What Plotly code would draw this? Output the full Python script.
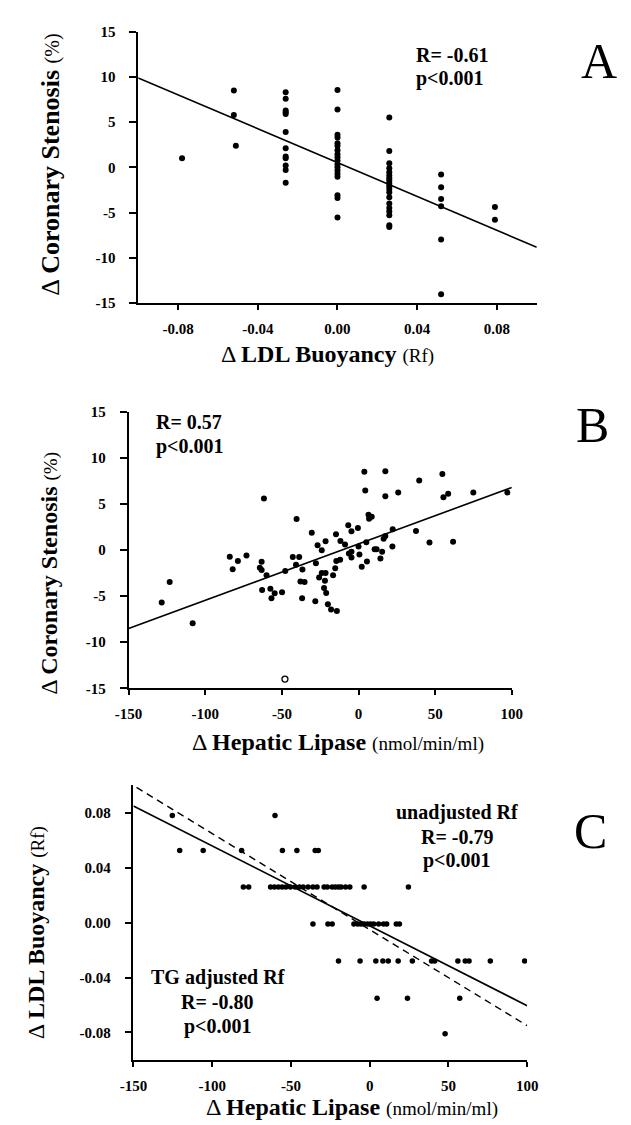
import plotly.graph_objects as go

W, H = 631, 1125

# ---------------- Panel A data ----------------
a_x = [-0.078,
       -0.052, -0.052, -0.051,
       -0.026, -0.026, -0.026, -0.026, -0.026, -0.026, -0.026, -0.026, -0.026, -0.026, -0.026, -0.026,
       0.0, 0.0, 0.0, 0.0, 0.0, 0.0, 0.0, 0.0, 0.0, 0.0, 0.0, 0.0, 0.0, 0.0, 0.0, 0.0, 0.0, 0.0,
       0.026, 0.026, 0.026, 0.026, 0.026, 0.026, 0.026, 0.026, 0.026, 0.026, 0.026, 0.026, 0.026, 0.026,
       0.026, 0.026, 0.026, 0.026, 0.026,
       0.052, 0.052, 0.052, 0.052, 0.052, 0.052,
       0.079, 0.079]
a_y = [1.0,
       8.5, 5.8, 2.4,
       8.3, 7.6, 6.3, 6.1, 5.9, 3.9, 2.1, 1.2, 1.0, 0.2, -0.3, -1.7,
       8.55, 6.4, 3.6, 3.3, 2.65, 2.4, 1.9, 1.45, 1.1, 0.75, 0.35, 0.0, -0.35, -0.7, -1.05, -3.1, -3.4, -5.55,
       5.5, 1.8, 0.45, -0.1, -0.55, -0.9, -1.2, -1.5, -1.8, -2.1, -2.4, -2.75, -3.3, -4.0,
       -4.5, -4.9, -5.3, -6.4, -6.6,
       -0.8, -2.2, -3.5, -4.3, -8.0, -14.05,
       -4.4, -5.8]
a_fit_x = [-0.1, 0.1]
a_fit_y = [9.9, -8.85]
a_xticks = [-0.08, -0.04, 0.0, 0.04, 0.08]
a_xticktext = ["-0.08", "-0.04", "0.00", "0.04", "0.08"]
a_yticks = [15, 10, 5, 0, -5, -10, -15]
a_yticktext = ["15", "10", "5", "0", "-5", "-10", "-15"]

# ---------------- Panel B data ----------------
b_x = [-128.4, -123.2, -108.2, -84.0, -82.1, -78.7, -73.1, -63.2, -61.7, -64.4,
       -63.2, -60.0, -62.9, -57.5, -56.8, -54.7, -49.9, -47.8, -42.9, -40.4,
       -38.7, -40.8, -36.6, -37.9, -35.2, -36.8, -30.5, -27.8, -28.2, -26.7,
       -24.0, -25.7, -24.0, -21.5, -21.9, -22.5, -21.1, -21.5, -20.0, -17.9,
       -14.1, -16.6, -15.2, -14.5, -12.0, -14.7, -11.8, -8.8, -6.7, -4.6,
       -6.3, -4.6, -4.6, -0.4, 0.0, 0.6, 2.1, 3.8, 4.4, 5.1,
       5.5, 6.5, 6.9, 8.6, 10.5, 11.8, 14.3, 15.4, 16.4, 17.5,
       17.5, 17.5, 22.3, 22.1, 25.9, 37.5, 39.6, 46.3, 54.7, 55.4,
       58.5, 61.7, 74.9, 97.1]
b_y = [-5.69, -3.47, -7.95, -0.72, -2.08, -1.18, -0.57, -1.25, 5.62, -1.90,
       -2.15, -2.72, -4.33, -4.19, -5.23, -4.69, -4.58, -2.26, -0.75, 3.37,
       -0.75, -1.58, -2.11, -3.40, -3.47, -5.23, 1.90, -1.43, -5.55, 0.54,
       0.0, -2.97, -2.47, -2.47, -3.33, -4.12, -4.65, 0.97, -5.87, -6.44,
       -6.62, -2.72, -1.97, -1.18, -1.04, 1.72, 1.00, 0.61, 2.69, 2.04,
       -0.36, -0.18, -0.79, 2.40, 0.39, -0.47, -1.79, 8.52, 6.48, 0.86,
       -1.22, 3.83, 3.40, 3.62, 0.11, 0.11, -0.90, -0.18, 1.25, 1.54,
       8.56, 5.84, 2.26, 0.39, 6.27, 2.08, 7.55, 0.82, 8.27, 5.73,
       6.12, 0.90, 6.27, 6.27]
b_open_x = [-48]
b_open_y = [-14.0]
b_fit_x = [-150, 100]
b_fit_y = [-8.5, 6.8]
b_xticks = [-150, -100, -50, 0, 50, 100]
b_xticktext = ["-150", "-100", "-50", "0", "50", "100"]
b_yticks = [15, 10, 5, 0, -5, -10, -15]
b_yticktext = ["15", "10", "5", "0", "-5", "-10", "-15"]

# ---------------- Panel C data ----------------
c_x = [-125.3, -60.1,
       -120.6, -105.7, -81.3, -55.4, -46.2, -34.6, -32.6,
       -80.2, -76.8, -62.9, -60.5, -58.0, -55.6, -53.2, -50.3, -47.3, -44.6,
       -42.2, -39.1, -36.0, -33.4, -28.9, -26.9, -23.8, -21.8, -19.8, -18.1,
       -15.3, -12.6, -3.5, 24.6,
       -36.0, -26.5, -23.8, -10.0, -7.5, -5.5, -3.5, -1.4, 0.6, 2.6,
       5.7, 8.8, 10.8, 16.9, 18.9,
       -19.8, -6.1, 3.9, 8.4, 11.8, 18.1, 27.1, 39.3, 41.3, 56.0,
       60.7, 63.1, 76.6, 98.4,
       4.7, 24.0, 57.2,
       47.9]
c_y = [0.078, 0.078,
       0.0525, 0.0525, 0.0525, 0.0525, 0.0525, 0.0525, 0.0525,
       0.026, 0.026, 0.026, 0.026, 0.026, 0.026, 0.026, 0.026, 0.026, 0.026,
       0.026, 0.026, 0.026, 0.026, 0.026, 0.026, 0.026, 0.026, 0.026, 0.026,
       0.026, 0.026, 0.026, 0.026,
       -0.001, -0.001, -0.001, -0.001, -0.001, -0.001, -0.001, -0.001, -0.001, -0.001,
       -0.001, -0.001, -0.001, -0.001, -0.001,
       -0.028, -0.028, -0.028, -0.028, -0.028, -0.028, -0.028, -0.028, -0.028, -0.028,
       -0.028, -0.028, -0.028, -0.028,
       -0.055, -0.055, -0.055,
       -0.081]
c_fit_solid_x = [-150, 100]
c_fit_solid_y = [0.085, -0.0605]
c_fit_dash_x = [-148, 100]
c_fit_dash_y = [0.0985, -0.075]
c_xticks = [-150, -100, -50, 0, 50, 100]
c_xticktext = ["-150", "-100", "-50", "0", "50", "100"]
c_yticks = [0.08, 0.04, 0.0, -0.04, -0.08]
c_yticktext = ["0.08", "0.04", "0.00", "-0.04", "-0.08"]

# ---------------- layout helpers ----------------
def fx(px):
    return px / W

def fy(py):
    return 1 - py / H

SERIF = "Liberation Serif, Times New Roman, serif"
tickfont = dict(family=SERIF, size=15, color="black", weight="bold")

def xaxis(domain, rng, tv, tt, anchor):
    return dict(domain=domain, range=rng, tickvals=tv, ticktext=tt, anchor=anchor,
                showline=True, linecolor="black", linewidth=1.5, ticks="outside",
                ticklen=5, tickwidth=1.5, tickcolor="black", showgrid=False,
                zeroline=False, tickfont=tickfont, fixedrange=True, ticklabelstandoff=6)

def yaxis(domain, rng, tv, tt, anchor):
    return dict(domain=domain, range=rng, tickvals=tv, ticktext=tt, anchor=anchor,
                showline=True, linecolor="black", linewidth=1.5, ticks="outside",
                ticklen=7, tickwidth=1.5, tickcolor="black", showgrid=False,
                zeroline=False, tickfont=tickfont, fixedrange=True, ticklabelstandoff=11)

marker = dict(color="black", size=6, line=dict(width=0))

fig = go.Figure()
# Panel A
fig.add_trace(go.Scatter(x=a_x, y=a_y, mode="markers", marker=marker, xaxis="x", yaxis="y"))
fig.add_trace(go.Scatter(x=a_fit_x, y=a_fit_y, mode="lines", line=dict(color="black", width=1.6),
                         xaxis="x", yaxis="y", cliponaxis=False))
# Panel B
fig.add_trace(go.Scatter(x=b_x, y=b_y, mode="markers", marker=marker, xaxis="x2", yaxis="y2"))
fig.add_trace(go.Scatter(x=b_open_x, y=b_open_y, mode="markers",
                         marker=dict(color="white", size=6, symbol="circle",
                                     line=dict(color="black", width=1.3)),
                         xaxis="x2", yaxis="y2"))
fig.add_trace(go.Scatter(x=b_fit_x, y=b_fit_y, mode="lines", line=dict(color="black", width=1.6),
                         xaxis="x2", yaxis="y2", cliponaxis=False))
# Panel C
fig.add_trace(go.Scatter(x=c_x, y=c_y, mode="markers", marker=dict(color="black", size=5.5),
                         xaxis="x3", yaxis="y3"))
fig.add_trace(go.Scatter(x=c_fit_solid_x, y=c_fit_solid_y, mode="lines",
                         line=dict(color="black", width=1.6), xaxis="x3", yaxis="y3", cliponaxis=False))
fig.add_trace(go.Scatter(x=c_fit_dash_x, y=c_fit_dash_y, mode="lines",
                         line=dict(color="black", width=1.4, dash="7px,5px"),
                         xaxis="x3", yaxis="y3", cliponaxis=False))

annotations = []

def ann(text, px, py, size, xanchor="center", angle=0, bold=False, family=SERIF):
    annotations.append(dict(text=text, x=fx(px), y=fy(py), xref="paper", yref="paper",
                            xanchor=xanchor, yanchor="middle", showarrow=False, textangle=angle,
                            font=dict(family=family, size=size, color="black",
                                      weight="bold" if bold else "normal")))

# axis titles
ann("Δ <b>LDL Buoyancy</b> <span style='font-size:19px'>(Rf)</span>", 318, 343, 24)
ann("Δ <b>Coronary Stenosis</b> <span style='font-size:20px'>(%)</span>", 30, 151, 26, angle=-90)
ann("Δ <b>Hepatic Lipase</b> <span style='font-size:19px'>(nmol/min/ml)</span>", 329, 736, 24)
ann("Δ <b>Coronary Stenosis</b> <span style='font-size:19px'>(%)</span>", 28, 565, 24, angle=-90)
ann("Δ <b>Hepatic Lipase</b> <span style='font-size:19px'>(nmol/min/ml)</span>", 344, 1107, 24)
ann("Δ <b>LDL Buoyancy</b> <span style='font-size:19px'>(Rf)</span>", 14, 930, 24, angle=-90)

# statistics text
ann("R= -0.61", 408, 40, 20, xanchor="left", bold=True)
ann("p&lt;0.001", 408, 63, 20, xanchor="left", bold=True)
ann("R= 0.57", 137, 412, 20, xanchor="left", bold=True)
ann("p&lt;0.001", 137, 437, 20, xanchor="left", bold=True)
ann("unadjusted Rf", 453, 808, 20, bold=True)
ann("R= -0.79", 453, 833, 20, bold=True)
ann("p&lt;0.001", 453, 857, 20, bold=True)
ann("TG adjusted Rf", 204, 975, 20, bold=True)
ann("R= -0.80", 204, 1000, 20, bold=True)
ann("p&lt;0.001", 204, 1025, 20, bold=True)

# panel letters
ann("A", 601, 46, 50)
ann("B", 594, 415, 50)
ann("C", 592, 827, 50)

fig.update_layout(
    width=W, height=H,
    margin=dict(l=0, r=0, t=0, b=0),
    paper_bgcolor="white", plot_bgcolor="white",
    showlegend=False,
    xaxis=xaxis([fx(121), fx(536)], [-0.1, 0.1], a_xticks, a_xticktext, "y"),
    yaxis=yaxis([fy(291), fy(16)], [-15, 15], a_yticks, a_yticktext, "x"),
    xaxis2=xaxis([fx(111), fx(510)], [-150, 100], b_xticks, b_xticktext, "y2"),
    yaxis2=yaxis([fy(682), fy(401.7)], [-15, 15], b_yticks, b_yticktext, "x2"),
    xaxis3=xaxis([fx(116), fx(526)], [-150, 100], c_xticks, c_xticktext, "y3"),
    yaxis3=yaxis([fy(1059), fy(780.5)], [-0.1, 0.1], c_yticks, c_yticktext, "x3"),
    annotations=annotations,
)

fig.write_html("out.html")
